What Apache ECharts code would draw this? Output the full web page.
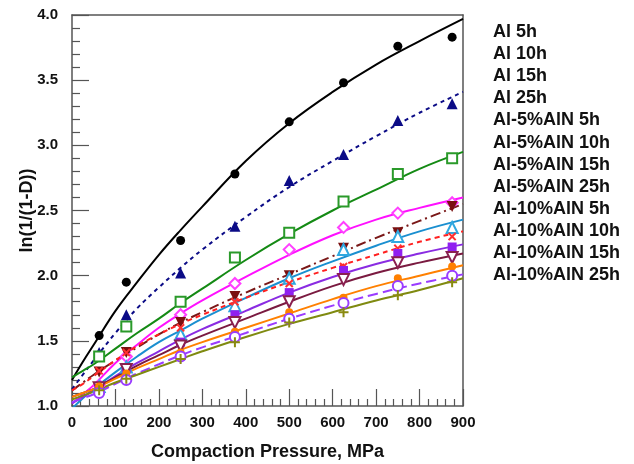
<!DOCTYPE html>
<html>
<head>
<meta charset="utf-8">
<script src="https://cdn.jsdelivr.net/npm/echarts@6/dist/echarts.min.js"></script>
<style>html,body{margin:0;padding:0;background:#fff}#c{width:634px;height:464px}</style>
</head>
<body>
<div id="c"></div>
<script>
// ---- data ----
const seriesNames = ["Al 5h","Al 10h","Al 15h","Al 25h","Al-5%AlN 5h","Al-5%AlN 10h","Al-5%AlN 15h","Al-5%AlN 25h","Al-10%AlN 5h","Al-10%AlN 10h","Al-10%AlN 15h","Al-10%AlN 25h"];
const xTicks = [0,100,200,300,400,500,600,700,800,900];
const yTicks = [1.0,1.5,2.0,2.5,3.0,3.5,4.0];
const pressure = [62.5,125,250,375,500,625,750,875];
const al5h      = [1.54,1.95,2.27,2.78,3.18,3.48,3.76,3.83];
const al10h     = [1.41,1.70,2.02,2.38,2.73,2.93,3.19,3.32];
const al15h     = [1.38,1.61,1.80,2.14,2.33,2.57,2.78,2.90];
const al25h     = [1.16,1.38,1.70,1.94,2.20,2.37,2.48,2.56];
const aln5_5h   = [1.26,1.41,1.64,1.84,2.00,2.21,2.33,2.53];
const aln5_10h  = [1.15,1.30,1.55,1.77,1.98,2.20,2.30,2.37];
const aln5_15h  = [1.27,1.41,1.60,1.80,1.94,2.07,2.21,2.30];
const aln5_25h  = [1.15,1.29,1.49,1.70,1.87,2.04,2.17,2.22];
const aln10_5h  = [1.14,1.28,1.46,1.64,1.80,1.97,2.10,2.14];
const aln10_10h = [1.15,1.25,1.41,1.57,1.72,1.83,1.98,2.07];
const aln10_15h = [1.10,1.20,1.38,1.53,1.67,1.79,1.92,2.00];
const aln10_25h = [1.12,1.21,1.36,1.49,1.64,1.72,1.85,1.95];
// fitted curves
const fitX = [0,25,50,100,150,200,250,300,400,500,600,700,800,900];
const fitAl5h      = [1.20,1.34,1.47,1.73,1.95,2.16,2.35,2.53,2.88,3.17,3.41,3.62,3.80,3.97];
const fitAl10h     = [1.13,1.24,1.35,1.56,1.75,1.91,2.06,2.20,2.45,2.68,2.88,3.07,3.25,3.41];
const fitAl15h     = [1.22,1.27,1.32,1.44,1.56,1.67,1.79,1.90,2.12,2.32,2.50,2.66,2.82,2.95];
const fitAl25h     = [1.02,1.09,1.16,1.33,1.47,1.60,1.71,1.81,1.99,2.16,2.31,2.43,2.52,2.60];
const fitAln5_5h   = [1.12,1.18,1.24,1.35,1.45,1.55,1.64,1.72,1.87,2.01,2.15,2.29,2.42,2.55];
const fitAln5_10h  = [0.98,1.06,1.13,1.26,1.38,1.49,1.58,1.67,1.83,1.98,2.11,2.23,2.34,2.43];
const fitAln5_15h  = [1.12,1.17,1.23,1.35,1.46,1.55,1.63,1.70,1.83,1.95,2.06,2.16,2.26,2.34];
const fitAln5_25h  = [1.02,1.07,1.12,1.23,1.33,1.42,1.51,1.59,1.73,1.87,1.99,2.09,2.17,2.24];
const fitAln10_5h  = [1.07,1.10,1.13,1.22,1.31,1.39,1.47,1.54,1.67,1.80,1.92,2.02,2.10,2.17];
const fitAln10_10h = [1.07,1.10,1.13,1.21,1.29,1.36,1.43,1.49,1.60,1.71,1.82,1.92,2.00,2.08];
const fitAln10_15h = [1.03,1.06,1.09,1.17,1.25,1.32,1.39,1.45,1.56,1.67,1.77,1.86,1.94,2.01];
const fitAln10_25h = [1.05,1.08,1.11,1.18,1.24,1.30,1.36,1.42,1.53,1.63,1.72,1.81,1.89,1.98];

const points = [al5h,al10h,al15h,al25h,aln5_5h,aln5_10h,aln5_15h,aln5_25h,aln10_5h,aln10_10h,aln10_15h,aln10_25h];
const fits = [fitAl5h,fitAl10h,fitAl15h,fitAl25h,fitAln5_5h,fitAln5_10h,fitAln5_15h,fitAln5_25h,fitAln10_5h,fitAln10_10h,fitAln10_15h,fitAln10_25h];

// ---- styles ----
const PLUS = 'path://M4,0H6V4H10V6H6V10H4V6H0V4H4Z';
const styles = [
  {line:'#000000', dash:'solid', sym:'circle', size:9, fill:'#000000', rot:0},
  {line:'#0b0b86', dash:[4,4], sym:'triangle', size:11, fill:'#0b0b86', rot:0},
  {line:'#148a14', dash:'solid', sym:'emptyRect', size:10, fill:'#2a9a2a', rot:0},
  {line:'#ff10ff', dash:'solid', sym:'emptyDiamond', size:11, fill:'#ff40ff', rot:0},
  {line:'#7a1818', dash:[10,4,2,4], sym:'triangle', size:11, fill:'#7a1010', rot:180},
  {line:'#1a8fd0', dash:'solid', sym:'emptyTriangle', size:11, fill:'#30a8e0', rot:0},
  {line:'#ff2020', dash:[5,4], sym:PLUS, size:10, fill:'#ff3030', rot:45},
  {line:'#8a2be2', dash:'solid', sym:'rect', size:9, fill:'#9020f0', rot:0},
  {line:'#7a1a40', dash:'solid', sym:'emptyTriangle', size:11, fill:'#8a2050', rot:180},
  {line:'#ff8000', dash:'solid', sym:'circle', size:8, fill:'#ff8000', rot:0},
  {line:'#9a3cff', dash:[10,5], sym:'emptyCircle', size:10, fill:'#9a3cff', rot:0},
  {line:'#7f8a10', dash:'solid', sym:PLUS, size:10, fill:'#8a8a10', rot:0}
];

const series = [];
seriesNames.forEach((name, i) => {
  const st = styles[i];
  series.push({
    name: name, type: 'line', smooth: 0.4, showSymbol: false, symbol: 'none', z: 2,
    data: fitX.map((x, k) => [x, fits[i][k]]),
    lineStyle: {color: st.line, width: 2, type: st.dash},
    itemStyle: {color: st.line}
  });
  series.push({
    name: name, type: 'scatter', z: 3,
    symbol: st.sym, symbolSize: st.size, symbolRotate: st.rot,
    data: pressure.map((x, k) => [x, points[i][k]]),
    itemStyle: {color: st.fill, borderColor: st.fill, borderWidth: st.sym.indexOf('empty') === 0 ? 1.5 : 0, opacity: 1}
  });
});

const FONT = '"Liberation Sans", Arial, sans-serif';
const AX = '#555';
const xMin = xTicks[0], xMax = xTicks[xTicks.length - 1];
const yMin = yTicks[0], yMax = yTicks[yTicks.length - 1];

const chart = echarts.init(document.getElementById('c'));
chart.setOption({
  backgroundColor: '#ffffff',
  animation: false,
  grid: {left: 72, right: 171, top: 15, bottom: 58, containLabel: false, outerBoundsMode: 'none'},
  legend: {
    data: seriesNames, orient: 'vertical', left: 483, top: 16,
    itemWidth: 0, itemHeight: 0, itemGap: 0, icon: 'rect',
    selectedMode: false,
    textStyle: {fontFamily: FONT, fontWeight: 'bold', fontSize: 18, color: '#111', lineHeight: 22.1}
  },
  xAxis: [{
    type: 'value', position: 'bottom', min: xMin, max: xMax, interval: 100,
    name: 'Compaction Pressure, MPa', nameLocation: 'middle', nameGap: 37, nameMoveOverlap: false,
    nameTextStyle: {fontFamily: FONT, fontWeight: 'bold', fontSize: 18, color: '#111'},
    axisLine: {show: true, onZero: false, lineStyle: {color: AX, width: 1.5}},
    axisTick: {show: true, inside: true, length: 17, lineStyle: {color: AX, width: 1.2}},
    minorTick: {show: true, splitNumber: 5, length: 7, lineStyle: {color: AX, width: 1.2}},
    splitLine: {show: false},
    axisLabel: {fontFamily: FONT, fontWeight: 'bold', fontSize: 15, color: '#111', margin: 9}
  }, {
    type: 'value', position: 'top', min: xMin, max: xMax, interval: 100,
    axisLine: {show: true, onZero: false, lineStyle: {color: AX, width: 1.5}},
    axisTick: {show: false}, axisLabel: {show: false}, splitLine: {show: false}
  }],
  yAxis: [{
    type: 'value', position: 'left', min: yMin, max: yMax, interval: 0.5,
    name: 'ln(1/(1-D))', nameLocation: 'middle', nameGap: 36, nameRotate: 90, nameMoveOverlap: false,
    nameTextStyle: {fontFamily: FONT, fontWeight: 'bold', fontSize: 18, color: '#111'},
    axisLine: {show: true, onZero: false, lineStyle: {color: AX, width: 1.5}},
    axisTick: {show: true, inside: true, length: 17, lineStyle: {color: AX, width: 1.2}},
    minorTick: {show: true, splitNumber: 5, length: 8, lineStyle: {color: AX, width: 1.2}},
    splitLine: {show: false},
    axisLabel: {fontFamily: FONT, fontWeight: 'bold', fontSize: 15, color: '#111', margin: 14,
      formatter: v => v.toFixed(1)}
  }, {
    type: 'value', position: 'right', min: yMin, max: yMax, interval: 0.5,
    axisLine: {show: true, onZero: false, lineStyle: {color: AX, width: 1.5}},
    axisTick: {show: false}, axisLabel: {show: false}, splitLine: {show: false}
  }],
  series: series
});
</script>
</body>
</html>
